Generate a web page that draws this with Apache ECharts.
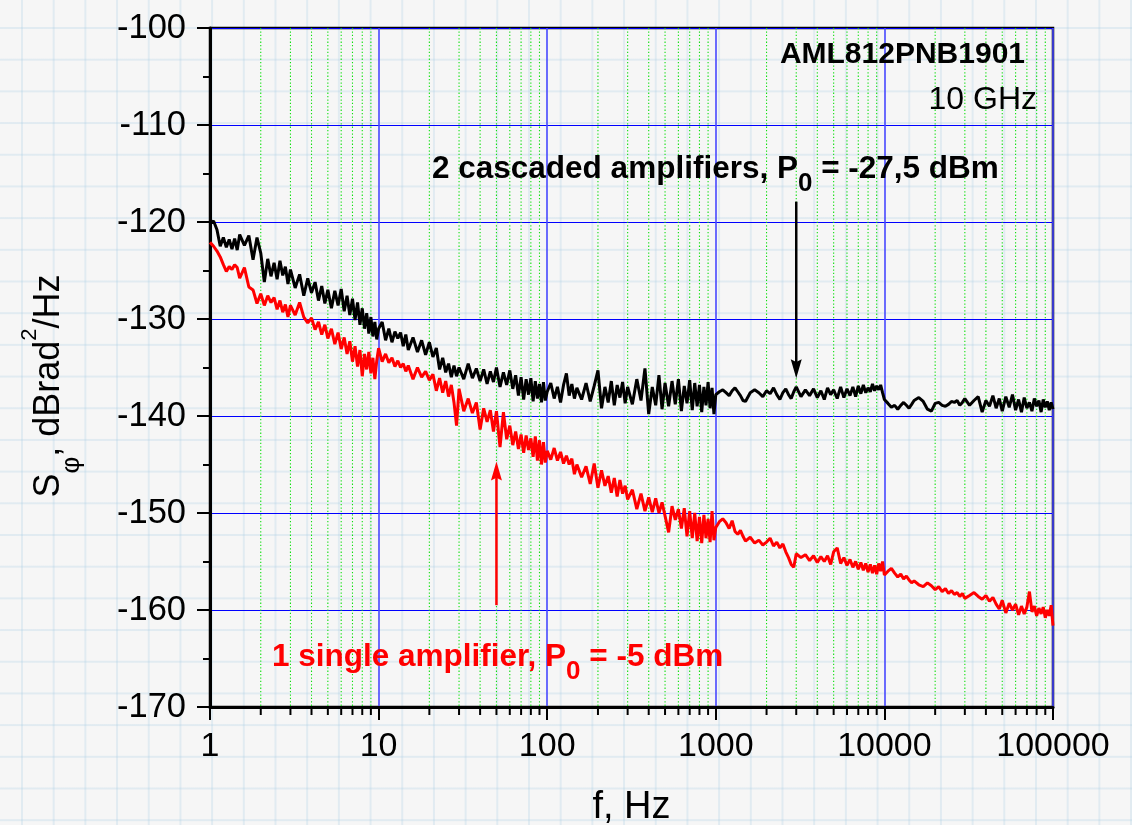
<!DOCTYPE html>
<html><head><meta charset="utf-8">
<script src="https://cdn.jsdelivr.net/npm/echarts@6/dist/echarts.min.js"></script>
<style>
html,body{margin:0;padding:0;}
body{width:1132px;height:825px;overflow:hidden;background-color:#f6f6f6;
background-image:linear-gradient(rgba(170,205,228,0.28) 2px, transparent 2px),linear-gradient(90deg, rgba(170,205,228,0.28) 2px, transparent 2px);
background-size:31.7px 31.7px;background-position:21px 27px;}
#chart{width:1132px;height:825px;}
</style></head><body><div id="chart"></div>
<script>
// ---- data ----
const mantissas = [1,1.05,1.1,1.15,1.2,1.25,1.3,1.35,1.4,1.45,1.5,
  1.6,1.7,1.8,1.9,2,2.1,2.2,2.3,2.4,2.5,2.6,2.7,2.8,2.9,3,
  3.2,3.4,3.6,3.8,4,4.2,4.4,4.6,4.8,5,
  5.25,5.5,5.75,6,6.25,6.5,6.75,7,7.25,7.5,7.75,8,8.25,8.5,8.75,9,9.25,9.5,9.75];
const decades = [1,10,100,1000,10000];
const lastFrequency = 100000;

const blackValues = [
  // 1 - 10 Hz
  -120.2,-119.9,-120.8,-122.5,-121.6,-122.6,-121.8,-122.8,-121.7,-122.9,-121.3,
  -122.4,-121.4,-123.9,-121.6,-123.2,-126.2,-123.8,-125.6,-124.2,-125.9,-124.0,-125.5,-124.6,-126.4,-124.9,
  -126.8,-125.4,-127.6,-125.8,-127.3,-126.2,-128.1,-126.6,-128.4,-127.0,
  -128.9,-127.1,-128.6,-126.9,-129.2,-127.6,-129.6,-127.9,-130.1,-128.3,-130.6,-128.9,-131.0,-129.4,-131.5,-129.8,-131.8,-130.3,-132.1,
  // 10 - 100 Hz
  -131.0,-130.3,-132.2,-131.0,-132.4,-131.3,-132.0,-131.4,-132.8,-131.6,-133.2,
  -131.9,-133.4,-132.2,-133.7,-132.4,-133.9,-133.0,-135.2,-134.0,-135.5,-134.6,-136.0,-134.8,-135.9,-135.0,
  -136.2,-134.6,-136.1,-135.1,-136.4,-135.2,-136.7,-135.4,-136.5,-135.0,
  -137.0,-135.5,-136.8,-135.3,-137.2,-135.8,-137.9,-136.0,-138.3,-136.2,-137.8,-136.1,-138.5,-136.4,-138.2,-136.7,-138.6,-136.5,-138.4,
  // 100 - 1000 Hz
  -137.5,-136.6,-138.2,-137.0,-138.6,-136.8,-135.6,-137.9,-136.7,-138.2,-137.1,
  -138.3,-136.6,-138.5,-136.9,-135.3,-139.2,-137.0,-138.6,-136.4,-138.9,-136.8,-138.1,-136.5,-138.7,-137.0,
  -138.8,-136.2,-138.4,-135.1,-139.8,-137.0,-138.9,-135.8,-139.3,-136.6,
  -139.0,-136.4,-138.8,-136.2,-139.5,-136.9,-138.7,-136.3,-139.4,-136.6,-139.0,-136.8,-139.6,-137.0,-138.9,-136.5,-139.2,-137.1,-139.8,
  // 1 - 10 kHz
  -137.8,-137.5,-137.3,-137.6,-137.9,-137.4,-137.1,-137.5,-137.9,-138.4,-138.5,
  -137.6,-137.3,-137.6,-138.0,-137.4,-137.7,-137.1,-137.8,-138.3,-137.6,-137.2,-137.8,-138.2,-137.5,-137.0,
  -138.0,-137.3,-137.9,-137.2,-138.1,-137.4,-138.3,-137.1,-137.8,-137.3,
  -138.2,-137.0,-138.1,-137.2,-137.9,-137.0,-138.0,-136.9,-137.7,-136.8,-137.6,-137.1,-137.5,-136.7,-137.4,-136.9,-137.3,-136.8,-137.6,
  // 10 - 100 kHz
  -138.3,-138.7,-139.1,-138.9,-139.3,-138.9,-138.6,-138.9,-139.2,-138.8,-138.4,
  -138.1,-138.5,-139.3,-139.5,-138.7,-138.6,-138.9,-139.0,-138.8,-138.5,-138.6,-138.4,-138.9,-138.6,-138.2,
  -138.9,-138.4,-138.0,-139.6,-138.4,-139.0,-137.9,-139.2,-138.2,-139.5,
  -138.0,-139.1,-137.8,-139.4,-138.3,-139.6,-138.1,-139.2,-138.6,-139.5,-138.2,-139.0,-138.4,-139.6,-138.3,-139.1,-138.5,-139.4,-138.6,
  -139.3
];

const redValues = [
  // 1 - 10 Hz
  -122.1,-122.5,-123.0,-123.6,-124.4,-125.1,-124.6,-124.9,-124.4,-124.7,-125.8,
  -124.7,-126.7,-127.0,-128.4,-127.4,-128.6,-127.6,-128.3,-127.8,-129.0,-128.1,-129.3,-128.5,-129.8,-128.6,
  -129.6,-128.3,-129.8,-130.4,-129.9,-131.1,-130.3,-131.6,-130.6,-132.0,
  -131.0,-132.6,-131.4,-133.1,-131.9,-133.6,-132.3,-134.4,-132.8,-134.9,-133.2,-135.9,-133.6,-135.2,-133.4,-135.6,-134.0,-136.2,-134.3,
  // 10 - 100 Hz
  -133.0,-134.4,-133.6,-134.5,-134.0,-134.9,-134.3,-135.0,-134.6,-135.4,-134.8,
  -136.2,-135.0,-136.0,-135.4,-136.3,-135.7,-137.4,-136.1,-137.6,-136.4,-138.0,-136.8,-138.6,-141.0,-137.2,
  -139.5,-138.2,-139.7,-138.6,-141.4,-139.2,-140.6,-139.4,-141.6,-139.5,
  -143.2,-139.6,-142.4,-141.0,-143.0,-141.6,-143.4,-141.9,-143.8,-142.0,-143.5,-142.3,-144.2,-142.1,-144.6,-142.5,-145.0,-142.7,-144.8,
  // 100 - 1000 Hz
  -143.6,-144.5,-143.3,-144.6,-143.7,-144.9,-144.1,-145.0,-144.4,-146.0,-145.0,
  -146.3,-145.2,-147.0,-144.9,-147.4,-145.6,-147.2,-146.2,-147.9,-146.4,-148.3,-146.6,-148.0,-147.2,-148.6,
  -147.6,-149.6,-148.0,-149.8,-148.4,-149.9,-148.5,-150.0,-148.9,-150.3,
  -152.0,-149.3,-150.7,-149.6,-151.6,-149.5,-152.4,-149.8,-152.6,-150.0,-152.9,-150.4,-153.1,-150.2,-152.6,-150.6,-153.0,-149.8,-152.8,
  // 1 - 10 kHz
  -151.5,-150.9,-150.6,-151.0,-151.6,-150.8,-151.9,-152.2,-151.8,-152.4,-152.9,
  -152.5,-153.1,-152.8,-153.3,-153.0,-152.6,-153.4,-153.0,-153.6,-153.2,-154.0,-154.6,-155.3,-155.6,-154.2,
  -154.6,-154.3,-154.9,-154.4,-155.1,-154.5,-155.0,-154.4,-155.3,-154.0,
  -153.6,-155.2,-154.6,-155.4,-154.8,-155.6,-155.0,-155.8,-155.1,-155.9,-155.2,-156.1,-155.3,-156.2,-155.4,-156.3,-155.2,-156.0,-155.0,
  // 10 - 100 kHz
  -156.4,-156.0,-155.7,-156.2,-156.6,-156.3,-156.8,-156.5,-156.9,-157.2,-157.0,
  -157.4,-157.6,-157.2,-157.5,-157.9,-157.6,-158.1,-157.8,-158.3,-158.0,-158.4,-158.2,-158.6,-158.3,-158.8,
  -158.5,-158.2,-158.6,-158.9,-158.5,-159.1,-158.7,-159.4,-159.9,-159.0,
  -160.3,-159.3,-160.0,-159.4,-160.5,-159.6,-160.4,-159.7,-158.1,-160.2,-159.6,-160.6,-159.8,-160.4,-159.7,-160.8,-160.0,-160.6,-159.5,
  -161.6
];

const xTickLabels = ['1','10','100','1000','10000','100000'];
const minorMantissas = [2,3,4,5,6,7,8,9];
const yRange = [-170, -100];
// annotation arrows in data coordinates: [frequency, start, tip]
const blackArrow = [3000, -117.9, -136.1];
const redArrow = [50, -159.5, -144.7];

// ---- build ----
const F = '"Liberation Sans", Arial, Helvetica, sans-serif';
const freq = [];
decades.forEach(d => mantissas.forEach(m => freq.push(+(d * m).toPrecision(6))));
freq.push(lastFrequency);
const blackData = freq.map((f, i) => [f, blackValues[i]]);
const redData = freq.map((f, i) => [f, redValues[i]]);
const minorData = [];
decades.forEach(d => minorMantissas.forEach(m => minorData.push([d * m, yRange[0]])));

function arrowRender(params, api) {
  const x = api.value(0), y0 = api.value(1), y1 = api.value(2);
  const p0 = api.coord([x, y0]), p1 = api.coord([x, y1]);
  const dir = p1[1] > p0[1] ? 1 : -1;
  const color = api.visual('color');
  const L = 19, W = 5.5;
  return {type: 'group', children: [
    {type: 'line', shape: {x1: p0[0], y1: p0[1], x2: p1[0], y2: p1[1] - dir * L * 0.8},
      style: {stroke: color, lineWidth: 2.5}},
    {type: 'polygon', shape: {points: [[p1[0], p1[1]], [p1[0] - W, p1[1] - dir * L],
      [p1[0], p1[1] - dir * L * 0.85], [p1[0] + W, p1[1] - dir * L]]}, style: {fill: color}}
  ]};
}

const chart = echarts.init(document.getElementById('chart'), null, {renderer: 'canvas'});
const richMain = (c) => ({fontSize: 31.5, fontWeight: 'bold', fontFamily: F, lineHeight: 32, height: 32, verticalAlign: 'top', fill: c});
const richSub = (c) => ({fontSize: 26, fontWeight: 'bold', fontFamily: F, lineHeight: 62, height: 62, verticalAlign: 'top', fill: c});

chart.setOption({
  animation: false,
  backgroundColor: 'transparent',
  grid: {left: 210, top: 28, right: 79, bottom: 118, show: true, borderColor: '#000', borderWidth: 2.5,
    backgroundColor: 'transparent', containLabel: false, outerBoundsMode: 'none'},
  xAxis: {
    type: 'log', logBase: 10, min: 1, max: 100000,
    axisLine: {show: true, onZero: false, lineStyle: {color: '#000', width: 3}},
    axisTick: {show: true, inside: false, length: 13, lineStyle: {color: '#000', width: 2}},
    minorTick: {show: false},
    axisLabel: {margin: 23, fontSize: 34, color: '#000', fontFamily: F,
      formatter: v => xTickLabels[Math.round(Math.log10(v))]},
    splitLine: {show: true, lineStyle: {color: '#4848ff', width: 1.6}},
    name: 'f, Hz', nameLocation: 'middle', nameGap: 82,
    nameTextStyle: {fontSize: 38, color: '#000', fontFamily: F}
  },
  yAxis: {
    type: 'value', min: yRange[0], max: yRange[1], interval: 10,
    axisLine: {show: true, onZero: false, lineStyle: {color: '#000', width: 3}},
    axisTick: {show: true, inside: false, length: 13, lineStyle: {color: '#000', width: 2}},
    minorTick: {show: true, splitNumber: 2, length: 7, lineStyle: {color: '#000', width: 2}},
    axisLabel: {margin: 24, fontSize: 34.5, color: '#000', fontFamily: F},
    splitLine: {show: true, lineStyle: {color: '#0000ff', width: 1.2}}
  },
  graphic: [
    {type: 'text', x: 1025, y: 40, z: 10, style: {text: 'AML812PNB1901', fontSize: 30, fontWeight: 'bold',
      fontFamily: F, fill: '#000', align: 'right', verticalAlign: 'top'}},
    {type: 'text', x: 1037, y: 84, z: 10, style: {text: '10 GHz', fontSize: 32,
      fontFamily: F, fill: '#000', align: 'right', verticalAlign: 'top'}},
    {type: 'text', x: 432, y: 153, z: 10, style: {text: '{m|2 cascaded amplifiers, P}{s|0}{m| = -27,5 dBm}',
      align: 'left', verticalAlign: 'top', rich: {m: richMain('#000'), s: richSub('#000')}}},
    {type: 'text', x: 272, y: 641, z: 10, style: {text: '{m|1 single amplifier, P}{s|0}{m| = -5 dBm}',
      align: 'left', verticalAlign: 'top', rich: {m: richMain('#ff0000'), s: richSub('#ff0000')}}},
    {type: 'text', x: 72, y: 386, rotation: Math.PI / 2, z: 10, style: {
      text: '{m|S}{s|φ}{m|, dBrad}{p|2}{m|/Hz}', align: 'center', verticalAlign: 'middle',
      rich: {
        m: {fontSize: 36, fontFamily: F, lineHeight: 70, height: 70, verticalAlign: 'top', fill: '#000'},
        s: {fontSize: 26, fontFamily: F, lineHeight: 116, height: 116, verticalAlign: 'top', fill: '#000'},
        p: {fontSize: 22, fontFamily: F, lineHeight: 32, height: 32, verticalAlign: 'top', fill: '#000'}
      }}}
  ],
  series: [
    {type: 'custom', name: 'minorGrid', coordinateSystem: 'cartesian2d', silent: true, z: 1, clip: false,
      data: minorData,
      renderItem: (params, api) => {
        const v = api.value(0);
        const top = api.coord([v, yRange[1]]), bot = api.coord([v, yRange[0]]);
        return {type: 'group', children: [
          {type: 'line', shape: {x1: top[0], y1: top[1], x2: bot[0], y2: bot[1]},
            style: {stroke: '#10e010', lineWidth: 1.1, lineDash: [1.3, 2.1]}},
          {type: 'line', shape: {x1: bot[0], y1: bot[1], x2: bot[0], y2: bot[1] + 8},
            style: {stroke: '#000', lineWidth: 2}}
        ]};
      }},
    {type: 'line', name: '2 cascaded amplifiers', data: blackData, showSymbol: false, symbol: 'none',
      lineStyle: {color: '#000', width: 3}, itemStyle: {color: '#000'}, z: 3, silent: true},
    {type: 'line', name: '1 single amplifier', data: redData, showSymbol: false, symbol: 'none',
      lineStyle: {color: '#ff0000', width: 3}, itemStyle: {color: '#ff0000'}, z: 4, silent: true},
    {type: 'custom', name: 'arrowBlack', coordinateSystem: 'cartesian2d', silent: true, z: 5,
      itemStyle: {color: '#000'}, data: [blackArrow], renderItem: arrowRender},
    {type: 'custom', name: 'arrowRed', coordinateSystem: 'cartesian2d', silent: true, z: 5,
      itemStyle: {color: '#ff0000'}, data: [redArrow], renderItem: arrowRender}
  ]
});
</script></body></html>
